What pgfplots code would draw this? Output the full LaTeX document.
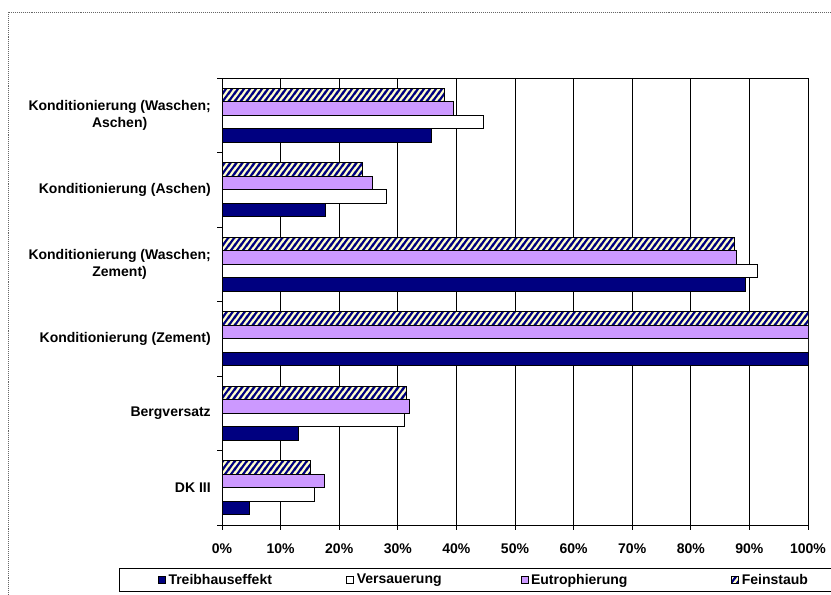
\documentclass[border=0pt]{standalone}
\usepackage{fontspec}
\setmainfont{Liberation Sans}
\usepackage{pgfplots}
\pgfplotsset{compat=1.18}
\usetikzlibrary{patterns}
\definecolor{navyc}{HTML}{000080}
\definecolor{lilac}{HTML}{CC99FF}
\definecolor{creamc}{HTML}{FFFFCC}
\pgfdeclarepatternformonly{featherstripes}{\pgfqpoint{0pt}{0pt}}{\pgfqpoint{4.2pt}{6pt}}{\pgfqpoint{4.2pt}{6pt}}{%
  \pgfsetlinewidth{1.6pt}%
  \pgfpathmoveto{\pgfqpoint{-0.84pt}{-1.2pt}}\pgfpathlineto{\pgfqpoint{5.04pt}{7.2pt}}%
  \pgfpathmoveto{\pgfqpoint{3.36pt}{-1.2pt}}\pgfpathlineto{\pgfqpoint{9.24pt}{7.2pt}}%
  \pgfpathmoveto{\pgfqpoint{-5.04pt}{-1.2pt}}\pgfpathlineto{\pgfqpoint{0.84pt}{7.2pt}}%
  \pgfusepath{stroke}}
\begin{document}
\begin{tikzpicture}
\useasboundingbox (0,0) rectangle (593.57pt,424.29pt);
\clip (0,0) rectangle (593.57pt,424.29pt);
\draw[gray!80!black, dash pattern=on 0.7pt off 0.7pt, line width=0.6pt] (5.7pt,-5pt) -- (5.7pt,415.7pt) -- (600pt,415.7pt);
\draw[black, line width=0.7pt] (600pt,17.9pt) -- (85.7pt,17.9pt) -- (85.7pt,2.1pt) -- (600pt,2.1pt);
\begin{axis}[
  at={(158.57pt,49.29pt)}, anchor=south west,
  scale only axis, width=418.57pt, height=319.29pt,
  xbar=0pt, bar width=9.64pt,
  xmin=0, xmax=100, ymin=-0.5, ymax=5.5,
  axis line style={black, line width=0.6pt},
  tick style={black, line width=0.6pt},
  tick align=outside, major tick length=3.5pt, tick pos=left,
  xtick={0,10,...,100},
  xticklabels={0\%,10\%,20\%,30\%,40\%,50\%,60\%,70\%,80\%,90\%,100\%},
  xticklabel style={font=\bfseries, yshift=-6pt},
  xmajorgrids, major grid style={black, line width=0.45pt},
  ytick={-0.5,0.5,1.5,2.5,3.5,4.5,5.5},
  yticklabels={},
  extra y ticks={0,1,2,3,4,5},
  extra y tick labels={DK III,Bergversatz,Konditionierung (Zement),{Konditionierung (Waschen;\\Zement)},Konditionierung (Aschen),{Konditionierung (Waschen;\\Aschen)}},
  extra y tick style={major tick length=0pt, grid=none},
  yticklabel style={font=\bfseries, align=center, xshift=-4.5pt},
  legend columns=4,
  legend style={at={(-0.1092,-0.1230)}, anchor=west, draw=none, fill=none,
    inner xsep=0pt, inner ysep=0pt, outer sep=0pt, font=\bfseries,
    /tikz/every odd column/.append style={column sep=0pt}},
  legend image code/.code={\draw[#1, line width=0.5pt] (0pt,-2.5pt) rectangle (5pt,2.5pt);},
]
\addplot[draw=black, line width=0.6pt, fill=navyc] coordinates {(4.6,0) (13.1,1) (100,2) (89.4,3) (17.7,4) (35.8,5)};
\addplot[draw=black, line width=0.6pt, fill=white] coordinates {(15.8,0) (31.1,1) (100,2) (91.4,3) (28.0,4) (44.6,5)};
\addplot[draw=black, line width=0.6pt, fill=lilac] coordinates {(17.4,0) (32.0,1) (100,2) (87.8,3) (25.6,4) (39.5,5)};
\addplot[draw=black, line width=0.6pt, preaction={fill=creamc},
  pattern=featherstripes, pattern color=navyc] coordinates {(15.1,0) (31.5,1) (100,2) (87.4,3) (23.9,4) (37.9,5)};
\legend{\makebox[125pt][l]{Treibhauseffekt},\makebox[115pt][l]{Versauerung},\makebox[141pt][l]{Eutrophierung},Feinstaub}
\end{axis}
\end{tikzpicture}
\end{document}
